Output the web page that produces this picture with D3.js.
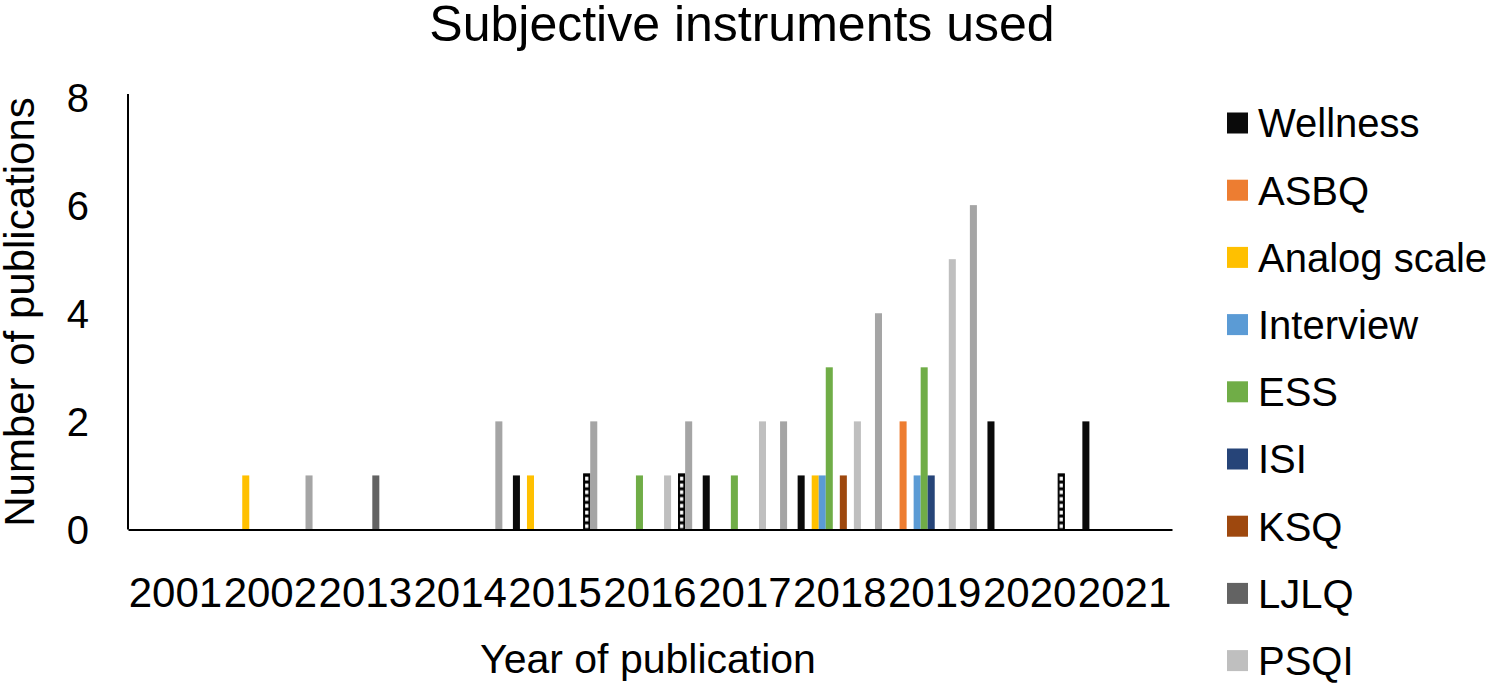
<!DOCTYPE html>
<html>
<head>
<meta charset="utf-8">
<script src="https://cdn.jsdelivr.net/npm/d3@7"></script>
<style>
  html, body { margin: 0; padding: 0; background: #fff; }
  svg { display: block; }
  text { font-family: "Liberation Sans", Arial, sans-serif; fill: #000; }
</style>
</head>
<body>
<div id="chart"></div>
<script>
// ---------- data ----------
const categories = ["2001","2002","2013","2014","2015","2016","2017","2018","2019","2020","2021"];
const seriesNames = ["Wellness","ASBQ","Analog scale","Interview","ESS","ISI","KSQ","LJLQ","PSQI","Other","Sleep diary","Questionnaire"];
const wellness    = [0,0,0,0,1,0,1,1,0,2,2];
const asbq        = [0,0,0,0,0,0,0,0,2,0,0];
const analogScale = [0,1,0,0,1,0,0,1,0,0,0];
const interview   = [0,0,0,0,0,0,0,1,1,0,0];
const ess         = [0,0,0,0,0,1,1,3,3,0,0];
const isi         = [0,0,0,0,0,0,0,0,1,0,0];
const ksq         = [0,0,0,0,0,0,0,1,0,0,0];
const ljlq        = [0,0,1,0,0,0,0,0,0,0,0];
const psqi        = [0,0,0,0,0,1,2,2,5,0,0];
const other       = [0,0,0,0,0,0,0,0,0,0,0];
const sleepDiary  = [0,0,0,0,1,1,0,0,0,1,0];
const questionnaire = [0,1,0,2,2,2,2,4,6,0,0];
const yTicks = [0,2,4,6,8];
const title = "Subjective instruments used";
const xTitle = "Year of publication";
const yTitle = "Number of publications";

const seriesValues = [wellness, asbq, analogScale, interview, ess, isi, ksq, ljlq, psqi, other, sleepDiary, questionnaire];
const colors = ["#0a0a0a","#ED7D31","#FFC000","#5B9BD5","#70AD47","#264478","#9E480E","#636363","#BFBFBF","#997300","pattern","#A5A5A5"];

// ---------- layout ----------
const W = 1500, H = 687;
const plot = {left: 128, right: 1172, top: 97, bottom: 529.5};

const svg = d3.select("#chart").append("svg").attr("width", W).attr("height", H);
const defs = svg.append("defs");

const x0 = d3.scaleBand().domain(categories).range([plot.left, plot.right]).padding(0);
const x1 = d3.scaleBand().domain(d3.range(seriesNames.length)).range([0, x0.bandwidth()])
  .paddingInner(0).paddingOuter(0.75);
const y = d3.scaleLinear().domain([0, 8]).range([plot.bottom, plot.top]);

// title
svg.append("text").attr("x", 742).attr("y", 41).attr("text-anchor", "middle")
  .style("font-size", "50px").text(title);

// bars
const barData = [];
seriesValues.forEach((vals, si) => {
  vals.forEach((v, ci) => { if (v > 0) barData.push({si, ci, v}); });
});

const bw = x1.bandwidth();
barData.forEach((d, k) => {
  const bx = x0(categories[d.ci]) + x1(d.si);
  const by = y(d.v);
  const bh = y(0) - y(d.v);
  let fill = colors[d.si];
  if (fill === "pattern") {
    const pid = "pat" + k;
    const p = defs.append("pattern").attr("id", pid).attr("patternUnits", "userSpaceOnUse")
      .attr("x", bx).attr("y", y(0)).attr("width", bw).attr("height", 6.8);
    p.append("rect").attr("width", bw).attr("height", 6.8).attr("fill", "#000");
    p.append("rect").attr("x", bw * 0.27).attr("y", 1.6).attr("width", bw * 0.46).attr("height", 3.8).attr("fill", "#fff");
    svg.append("rect").attr("x", bx + 0.5).attr("y", by - 1.5).attr("width", bw - 1).attr("height", bh + 1.5)
      .attr("fill", `url(#${pid})`).attr("stroke", "#000").attr("stroke-width", 1.2);
  } else {
    svg.append("rect").attr("x", bx).attr("y", by).attr("width", bw).attr("height", bh).attr("fill", fill);
  }
});

// axes
const yAxis = d3.axisLeft(y).tickValues(yTicks).tickSize(0).tickPadding(39).tickFormat(d3.format("d"));
const gy = svg.append("g").attr("transform", `translate(${plot.left},0)`).call(yAxis);
gy.select(".domain").attr("stroke", "#000").attr("stroke-width", 2).attr("d", `M0,${y(8) - 3}V${y(0)}`);
gy.selectAll("text").style("font-size", "40px").attr("dy", "0.35em").attr("font-family", null);

const xAxis = d3.axisBottom(x0).tickSize(0).tickPadding(48);
const gx = svg.append("g").attr("transform", `translate(0,${plot.bottom})`).call(xAxis);
gx.select(".domain").attr("stroke", "#000").attr("stroke-width", 2);
gx.selectAll("text").style("font-size", "42px").attr("dy", "0.71em").attr("font-family", null);

// axis titles
svg.append("text").attr("x", 648).attr("y", 673).attr("text-anchor", "middle")
  .style("font-size", "41px").text(xTitle);
svg.append("text").attr("transform", `translate(34,312) rotate(-90)`).attr("text-anchor", "middle")
  .style("font-size", "42px").text(yTitle);

// legend (entries beyond the bottom edge are clipped, as in the original)
const legend = svg.append("g");
seriesNames.forEach((name, i) => {
  const cy = 123 + i * 67.2;
  if (cy > H) return;
  const g = legend.append("g").attr("transform", `translate(1227,${cy})`);
  let fill = colors[i];
  if (fill === "pattern") fill = "#000";
  g.append("rect").attr("x", 0).attr("y", -10.5).attr("width", 21).attr("height", 21).attr("fill", fill);
  g.append("text").attr("x", 31).attr("y", 0).attr("dy", "0.36em").style("font-size", "40px").text(name);
});
</script>
</body>
</html>
